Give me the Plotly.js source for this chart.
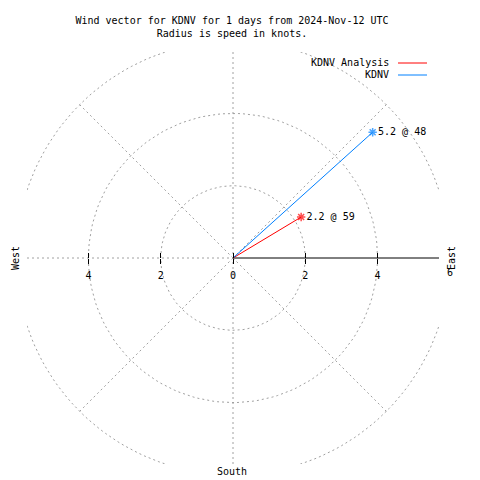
<!DOCTYPE html>
<html>
<head>
<meta charset="utf-8">
<script src="https://cdn.plot.ly/plotly-3.0.1.min.js"></script>
<style>html,body{margin:0;padding:0;background:#fff;}#chart{width:480px;height:480px;}</style>
</head>
<body>
<div id="chart"></div>
<script>
// ---- data ----
const seriesNames = ['KDNV Analysis', 'KDNV'];
const speeds = [2.2, 5.2];          // knots
const directions = [59, 48];        // degrees, clockwise from north
const seriesColors = ['#ff0000', '#0080ff'];
const tickVals = [-4, -2, 0, 2, 4];
const tickText = ['4', '2', '0', '2', '4'];
const ringRadii = [2, 4, 6];
const spokeAngles = [45, 135, 225, 315];
const titleLines = ['Wind vector for KDNV for 1 days from 2024-Nov-12 UTC', 'Radius is speed in knots.'];

// ---- layout helpers ----
const W = 480, H = 480;
const M = {l: 27, r: 41, t: 52, b: 16};
const PW = W - M.l - M.r, PH = H - M.t - M.b;
const px = x => (x - M.l) / PW;
const py = y => (H - M.b - y) / PH;
const FONT = 'DejaVu Sans Mono, Liberation Mono, monospace';
const GRID = '#a0a0a0';
const RMAX = 5.7;
const gridLine = {color: GRID, width: 1, dash: '2px,3px'};

const traces = [];
// polar grid rings (clipped to plot area as line traces)
ringRadii.forEach(r => {
  const xs = [], ys = [];
  for (let k = 0; k <= 360; k += 2) {
    const a = k * Math.PI / 180;
    xs.push(r * Math.cos(a)); ys.push(r * Math.sin(a));
  }
  traces.push({type: 'scatter', mode: 'lines', x: xs, y: ys, line: gridLine,
    showlegend: false, hoverinfo: 'skip'});
});

speeds.forEach((s, i) => {
  const a = directions[i] * Math.PI / 180;
  traces.push({
    type: 'scatter',
    mode: 'lines+markers+text',
    name: seriesNames[i],
    x: [0, s * Math.sin(a)],
    y: [0, s * Math.cos(a)],
    text: ['', s.toFixed(1) + ' @ ' + directions[i]],
    textposition: 'middle right',
    textfont: {family: FONT, size: 10, color: '#000'},
    line: {color: seriesColors[i], width: 1},
    marker: {symbol: ['circle', 'asterisk-open'], size: [0, 7],
             color: seriesColors[i], line: {color: seriesColors[i], width: 1.5}},
    cliponaxis: false,
    showlegend: false,
    hoverinfo: 'skip'
  });
});

const shapes = [];
spokeAngles.forEach(d => {
  const a = d * Math.PI / 180, r = ringRadii[ringRadii.length - 1];
  shapes.push({type: 'line', xref: 'x', yref: 'y', x0: 0, y0: 0,
    x1: r * Math.sin(a), y1: r * Math.cos(a), line: gridLine, layer: 'below'});
});
shapes.push({type: 'line', xref: 'x', yref: 'y', x0: 0, y0: -RMAX, x1: 0, y1: RMAX, line: gridLine, layer: 'below'});
shapes.push({type: 'line', xref: 'x', yref: 'y', x0: -RMAX, y0: 0, x1: 0, y1: 0, line: gridLine, layer: 'below'});
shapes.push({type: 'line', xref: 'x', yref: 'y', x0: 0, y0: 0, x1: RMAX, y1: 0, line: {color: '#000', width: 1}, layer: 'below'});

// legend (gnuplot style: text then line sample)
const legendY = [63, 75];
const annotations = [];
const txt = (x, y, t, extra) => Object.assign({xref: 'paper', yref: 'paper', x: px(x), y: py(y),
  xanchor: 'center', yanchor: 'middle', text: t, showarrow: false,
  font: {family: FONT, size: 10, color: '#000'}}, extra || {});
seriesNames.forEach((n, i) => {
  annotations.push(txt(391, legendY[i], n, {xanchor: 'right'}));
  shapes.push({type: 'line', xref: 'paper', yref: 'paper', x0: px(398), x1: px(427),
    y0: py(legendY[i]), y1: py(legendY[i]), line: {color: seriesColors[i], width: 1}});
});
annotations.push(txt(15, 258, 'West', {textangle: -90}));
annotations.push(txt(451, 258, 'East', {textangle: -90}));
annotations.push(txt(450, 272, '6'));
annotations.push(txt(232, 471, 'South'));

const layout = {
  width: W, height: H,
  margin: M,
  paper_bgcolor: '#fff', plot_bgcolor: '#fff',
  showlegend: false,
  title: {text: titleLines.join('<br>'), font: {family: FONT, size: 10, color: '#000'},
          x: 232 / W, xanchor: 'center', xref: 'container', y: 1 - 24 / H, yanchor: 'top', yref: 'container'},
  xaxis: {range: [-RMAX, RMAX], anchor: 'free', position: 0.5, showgrid: false, zeroline: false,
          showline: false, tickmode: 'array', tickvals: tickVals, ticktext: tickText,
          ticks: 'outside', ticklen: 5, tickcolor: '#000', tickwidth: 1, ticklabelstandoff: 3,
          tickfont: {family: FONT, size: 10, color: '#000'}, fixedrange: true},
  xaxis2: {range: [-RMAX, RMAX], overlaying: 'x', anchor: 'free', position: 0.5, side: 'bottom',
          showgrid: false, zeroline: false, showline: false, tickmode: 'array', tickvals: tickVals,
          ticks: 'inside', ticklen: 5, tickcolor: '#000', tickwidth: 1, showticklabels: false},
  yaxis: {range: [-RMAX, RMAX], showgrid: false, zeroline: false, showline: false,
          showticklabels: false, ticks: '', fixedrange: true},
  shapes: shapes,
  annotations: annotations
};
// empty trace to activate xaxis2
traces.push({type: 'scatter', x: [], y: [], xaxis: 'x2', yaxis: 'y', showlegend: false, hoverinfo: 'skip'});

Plotly.newPlot('chart', traces, layout, {staticPlot: true});
</script>
</body>
</html>
